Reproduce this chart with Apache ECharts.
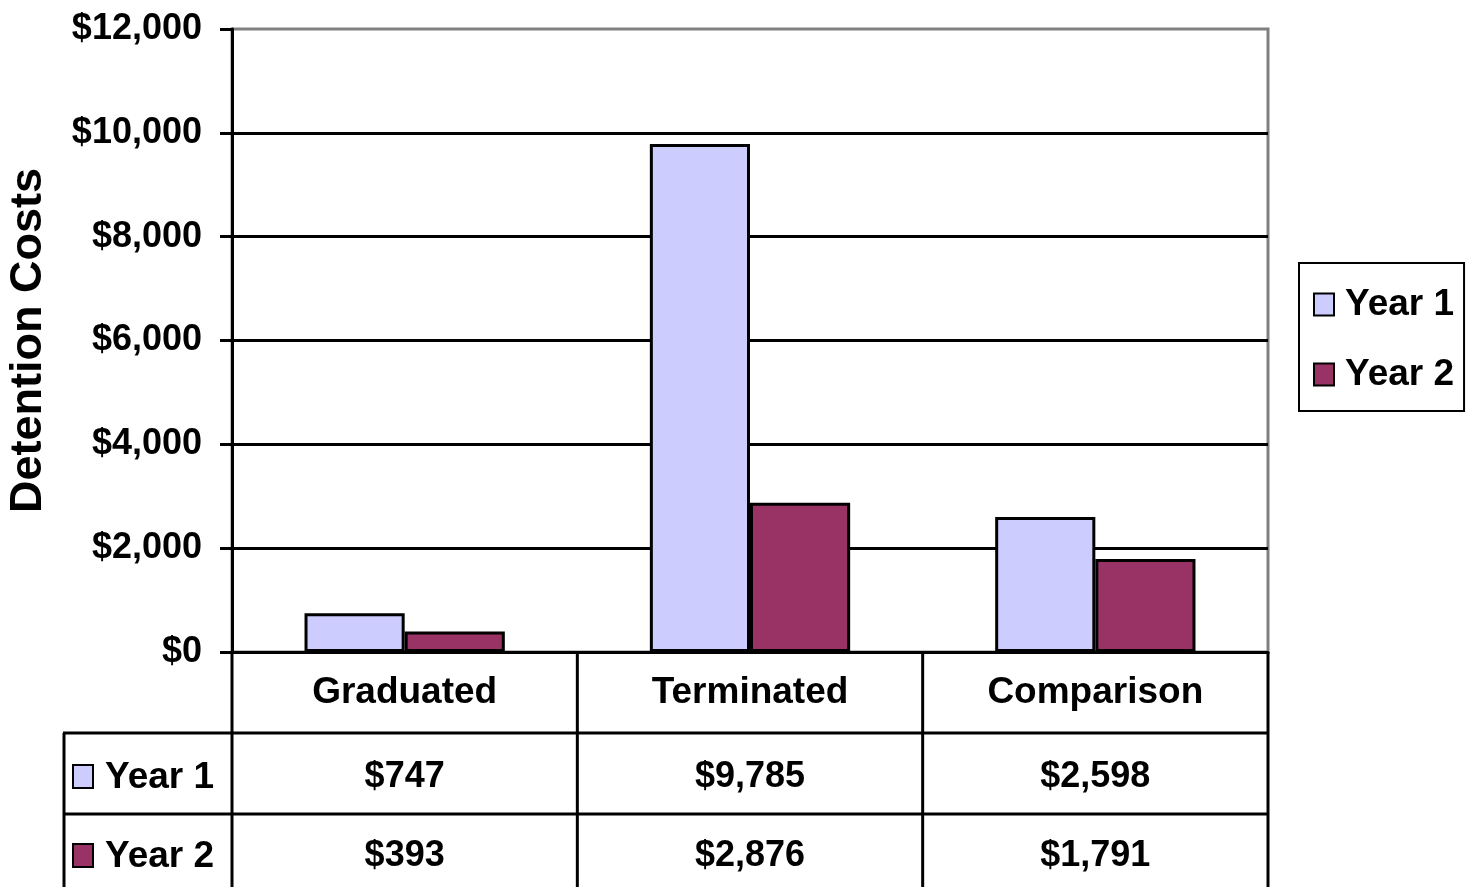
<!DOCTYPE html>
<html>
<head>
<meta charset="utf-8">
<script src="https://cdn.jsdelivr.net/npm/echarts@6/dist/echarts.min.js"></script>
<style>
  html, body { margin: 0; padding: 0; background: #fff; }
  #chart { width: 1472px; height: 887px; }
</style>
</head>
<body>
<div id="chart"></div>
<script>
// data
const categories = ['Graduated', 'Terminated', 'Comparison'];
const seriesNames = ['Year 1', 'Year 2'];
const year1 = [747, 9785, 2598];
const year2 = [393, 2876, 1791];
const seriesColors = ['#CCCCFF', '#993366'];

// no narrow face installed, so a smaller bold sans stands in for it
const FONT = '"Liberation Sans", Arial, sans-serif';
const money = v => '$' + Number(v).toLocaleString('en-US');

// layout
const gridLeft = 232, gridRight = 1268, gridTop = 29, gridBottom = 652;
const tableLeft = 64, row1 = 733, row2 = 814, tableBottom = 900;
const colW = (gridRight - gridLeft) / categories.length;

let buildTable = function() {
    let els = [];
    let line = (x1, y1, x2, y2) => els.push({
        type: 'line', silent: true, z: 10,
        shape: { x1: x1, y1: y1, x2: x2, y2: y2 },
        style: { stroke: '#000', lineWidth: 3 }
    });
    line(tableLeft - 1, row1, gridRight, row1);
    line(tableLeft - 1, row2, gridRight, row2);
    line(tableLeft, row1, tableLeft, tableBottom);
    for (let i = 0; i <= categories.length; i++) {
        let x = gridLeft + i * colW;
        line(x, gridBottom, x, tableBottom);
    }
    let rows = [year1, year2];
    let centers = [777, 856];
    rows.forEach((vals, r) => {
        let cy = centers[r];
        els.push({
            type: 'rect', z: 10, silent: true,
            shape: { x: 73, y: cy - 12, width: 20, height: 23 },
            style: { fill: seriesColors[r], stroke: '#000', lineWidth: 2 }
        });
        els.push({
            type: 'text', z: 10, silent: true,
            style: { text: seriesNames[r], x: 105, y: cy + 1, font: 'bold 37px ' + FONT,
                     fill: '#000', align: 'left', verticalAlign: 'middle' }
        });
        vals.forEach((v, i) => {
            els.push({
                type: 'text', z: 10, silent: true,
                style: { text: money(v), x: gridLeft + (i + 0.5) * colW, y: cy,
                         font: 'bold 36px ' + FONT, fill: '#000',
                         align: 'center', verticalAlign: 'middle' }
            });
        });
    });
    return els;
};

let chart = echarts.init(document.getElementById('chart'));
chart.setOption({
    animation: false,
    backgroundColor: '#fff',
    grid: {
        left: gridLeft, right: 1472 - gridRight, top: gridTop, bottom: 887 - gridBottom,
        outerBoundsMode: 'none',
        show: true, borderColor: '#808080', borderWidth: 3, backgroundColor: 'transparent'
    },
    legend: {
        data: seriesNames,
        orient: 'vertical',
        left: 1299, top: 263,
        borderColor: '#000', borderWidth: 2,
        padding: [23, 10, 18, 14],
        itemGap: 33,
        itemWidth: 20, itemHeight: 22,
        icon: 'rect',
        textStyle: { fontFamily: FONT, fontWeight: 'bold', fontSize: 37, color: '#000', padding: [0, 0, 0, 6] }
    },
    xAxis: {
        type: 'category',
        data: categories,
        axisLine: { lineStyle: { color: '#000', width: 3 } },
        axisTick: { show: false },
        axisLabel: { margin: 22, fontFamily: FONT, fontWeight: 'bold', fontSize: 37, color: '#000', lineHeight: 37 }
    },
    yAxis: {
        type: 'value',
        min: 0, max: 12000, interval: 2000,
        name: 'Detention Costs',
        nameLocation: 'middle',
        nameGap: 181,
        nameTextStyle: { fontFamily: FONT, fontWeight: 'bold', fontSize: 45, color: '#000' },
        axisLine: { show: true, lineStyle: { color: '#000', width: 3 } },
        axisTick: { show: true, length: 12, lineStyle: { color: '#000', width: 3 } },
        axisLabel: { margin: 30, formatter: money, fontFamily: FONT, fontWeight: 'bold', fontSize: 36, color: '#000' },
        splitLine: { show: true, showMaxLine: false, lineStyle: { color: '#000', width: 3 } }
    },
    series: [year1, year2].map((vals, i) => ({
        name: seriesNames[i],
        type: 'bar',
        data: vals,
        barGap: '0%',
        barCategoryGap: '42%',
        itemStyle: { color: seriesColors[i], borderColor: '#000', borderWidth: 3 }
    })),
    graphic: buildTable()
});
</script>
</body>
</html>
